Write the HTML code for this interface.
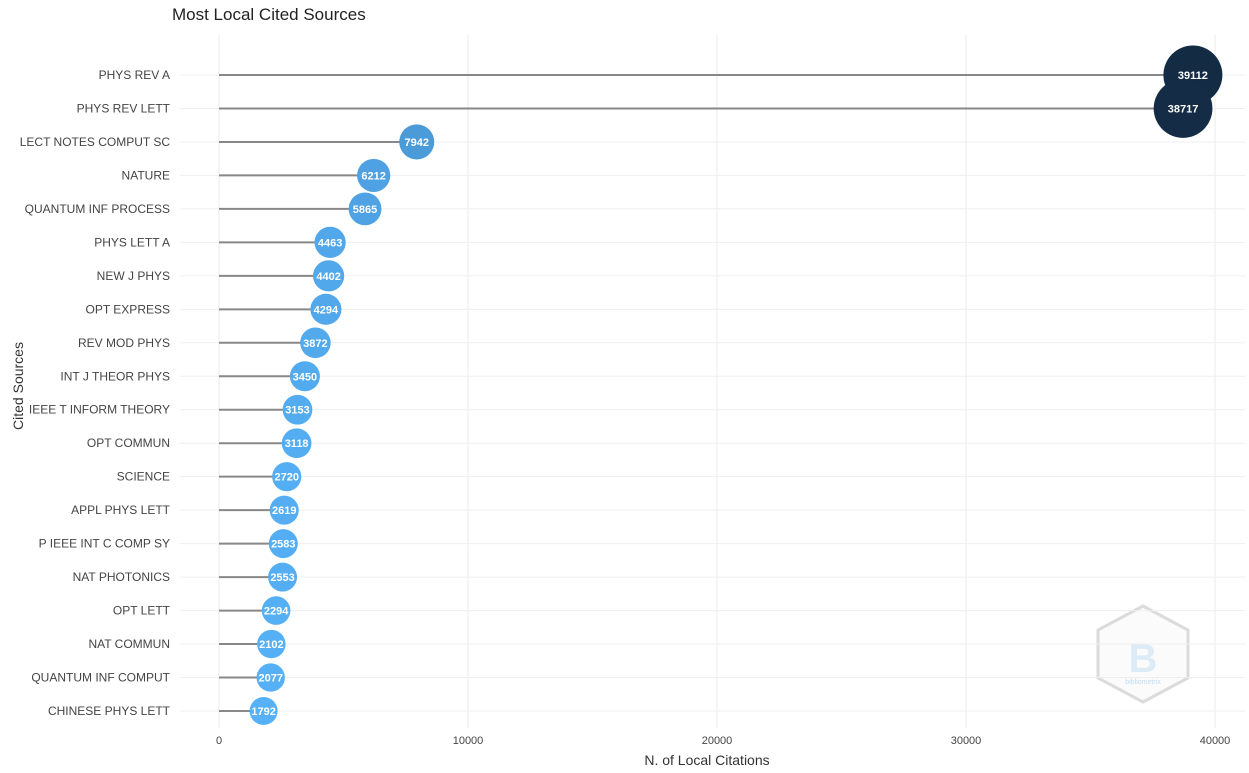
<!DOCTYPE html>
<html><head><meta charset="utf-8"><style>
body{margin:0;background:#fff;font-family:"Liberation Sans",sans-serif}
</style></head><body>
<svg id="chart" width="1249" height="768" xmlns="http://www.w3.org/2000/svg">
<text x="172" y="20" font-size="17" fill="#222">Most Local Cited Sources</text>
<text x="707" y="765" font-size="14" fill="#333" text-anchor="middle">N. of Local Citations</text>
<text transform="translate(23,386) rotate(-90)" font-size="14" fill="#333" text-anchor="middle">Cited Sources</text>
<g opacity="0.35">
<polygon points="1143,630 1188,654 1188,702 1143,726 1098,702 1098,654" transform="translate(0,-24)" fill="#f4f4f4" stroke="#999" stroke-width="3"/>
<text x="1143" y="684" font-size="7" fill="#4a9ee0" text-anchor="middle">bibliometrix</text>
<text x="1143" y="672" font-size="40" fill="#9fc8e8" text-anchor="middle" font-weight="bold">B</text>
</g>
<g id="grid"></g><g id="marks"></g>
</svg>
<script>
const categories=["PHYS REV A","PHYS REV LETT","LECT NOTES COMPUT SC","NATURE","QUANTUM INF PROCESS","PHYS LETT A","NEW J PHYS","OPT EXPRESS","REV MOD PHYS","INT J THEOR PHYS","IEEE T INFORM THEORY","OPT COMMUN","SCIENCE","APPL PHYS LETT","P IEEE INT C COMP SY","NAT PHOTONICS","OPT LETT","NAT COMMUN","QUANTUM INF COMPUT","CHINESE PHYS LETT"];
const values=[39112,38717,7942,6212,5865,4463,4402,4294,3872,3450,3153,3118,2720,2619,2583,2553,2294,2102,2077,1792];
const xTicks=[0,10000,20000,30000,40000];
const NS="http://www.w3.org/2000/svg";
const xs=v=>219+v*(1215-219)/40000;
const ys=i=>75+i*(711-75)/19;
const mn=Math.min(...values),mx=Math.max(...values);
const rs=v=>Math.sqrt(163.6+0.01806*v);
function col(v){const t=(v-mn)/(mx-mn);const a=[0x56,0xb1,0xf7],b=[0x13,0x2b,0x43];return "rgb("+a.map((c,k)=>Math.round(c+(b[k]-c)*t)).join(",")+")";}
function mk(tag,at,parent){const e=document.createElementNS(NS,tag);for(const k in at)e.setAttribute(k,at[k]);parent.appendChild(e);return e;}
const grid=document.getElementById('grid'),marks=document.getElementById('marks');
xTicks.forEach(t=>{
 const l=mk('line',{x1:xs(t),x2:xs(t),y1:35,y2:728,stroke:'#ebebeb'},grid);
 
 
 const tx=mk('text',{x:xs(t),y:744,'font-size':11,fill:'#444','text-anchor':'middle'},grid);
 tx.textContent=t;
 
 
});
categories.forEach((c,i)=>{
 const y=ys(i);
 const g=mk('line',{x1:180,x2:1245,y1:y,y2:y,stroke:'#efefef'},grid);
 
 
 const lb=mk('text',{x:170,y:y+4,'font-size':12,fill:'#444','text-anchor':'end'},grid);
 lb.textContent=c;
 
 
});
categories.forEach((c,i)=>{
 const y=ys(i),v=values[i];
 const s=mk('line',{x1:xs(0),x2:xs(v),y1:y,y2:y,stroke:'#888','stroke-width':2},marks);
 
 
});
categories.forEach((c,i)=>{
 const y=ys(i),v=values[i];
 const cc=mk('circle',{cx:xs(v),cy:y,r:rs(v),fill:col(v)},marks);
 
 
 const t=mk('text',{x:xs(v),y:y+4,'font-size':11,'font-weight':'bold',fill:'#fff','text-anchor':'middle'},marks);
 t.textContent=v;
 
 
});
</script>
</body></html>
